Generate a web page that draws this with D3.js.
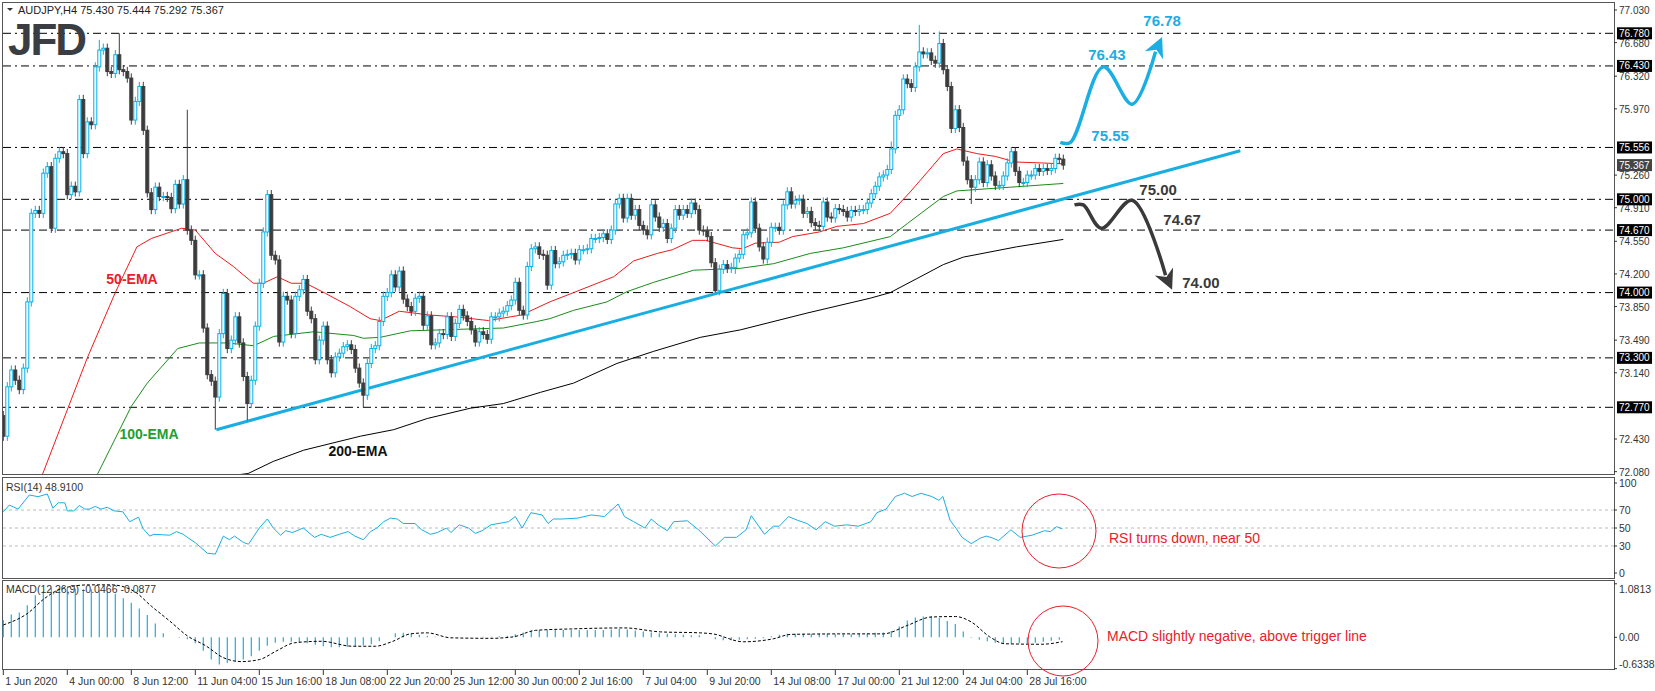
<!DOCTYPE html>
<html><head><meta charset="utf-8">
<script src="https://cdn.jsdelivr.net/npm/d3@7/dist/d3.min.js"></script>
<style>body{margin:0;background:#fff}svg{display:block}text{font-family:"Liberation Sans",Arial,sans-serif}</style>
</head><body><svg id="c" width="1655" height="691"></svg>
<script>
const firstOpen = 72.68;
const closes = [72.46,72.99,73.17,73.06,72.96,73.19,73.90,74.85,74.88,74.85,75.28,75.35,74.69,75.44,75.51,75.49,75.05,75.14,75.08,76.07,
75.49,75.83,75.80,76.42,76.60,76.62,76.37,76.35,76.55,76.39,76.37,76.30,75.85,76.05,76.21,75.74,75.07,74.89,75.13,75.03,
75.03,75.02,74.90,75.16,74.95,75.21,74.67,74.56,74.19,74.19,73.62,73.12,73.05,72.88,73.56,73.99,73.40,73.49,73.74,73.46,
73.10,72.81,73.06,73.64,74.10,74.65,75.05,74.40,74.35,73.47,73.96,73.92,73.56,73.96,74.03,74.14,73.80,73.72,73.28,73.49,
73.64,73.28,73.14,73.31,73.35,73.42,73.44,73.39,73.19,73.03,72.90,73.24,73.40,73.43,73.69,73.96,74.00,74.19,74.06,74.23,
73.93,73.85,73.80,73.94,73.96,73.65,73.75,73.44,73.46,73.56,73.55,73.74,73.53,73.67,73.82,73.75,73.69,73.60,73.47,73.58,
73.55,73.50,73.74,73.74,73.78,73.80,73.86,73.92,74.11,73.81,73.76,74.28,74.47,74.49,74.41,74.40,74.08,74.45,74.31,74.33,
74.40,74.41,74.42,74.35,74.46,74.46,74.47,74.58,74.58,74.59,74.63,74.57,74.67,74.95,75.01,74.80,75.01,74.83,74.89,74.72,
74.67,74.62,74.94,74.81,74.70,74.74,74.58,74.69,74.89,74.83,74.89,74.85,74.96,74.89,74.67,74.66,74.60,74.32,74.02,74.25,
74.30,74.26,74.27,74.37,74.41,74.62,74.64,74.97,74.69,74.49,74.36,74.54,74.70,74.70,74.67,74.94,75.08,74.95,74.99,75.00,
74.85,74.87,74.75,74.72,74.71,74.97,74.81,74.80,74.90,74.89,74.87,74.81,74.88,74.87,74.89,74.89,74.96,75.06,75.14,75.24,
75.26,75.32,75.54,75.90,75.96,76.29,76.24,76.20,76.42,76.58,76.56,76.57,76.49,76.46,76.67,76.39,76.21,75.76,75.96,75.77,
75.41,75.21,75.13,75.21,75.40,75.18,75.37,75.25,75.15,75.15,75.25,75.39,75.51,75.30,75.18,75.18,75.26,75.26,75.33,75.30,
75.33,75.31,75.33,75.44,75.43,75.367];
const highOverrides = [[24,76.71],[29,76.78],[46,75.96],[229,76.87],[234,76.80],[222,75.62]];
const lowOverrides = [[53,72.53],[61,72.63],[90,72.77],[178,74.0],[183,74.2],[242,74.95]];
const ema50 = [[9.7,72.04],[21,73.30],[28,74.0],[33.4,74.49],[37,74.58],[44.6,74.69],[48,74.67],[53,74.42],[57.5,74.28],[62.5,74.10],[65,74.10],[68.5,74.17],[72,74.10],[75.6,74.10],[80.6,73.99],[86.7,73.85],[91.7,73.72],[94.2,73.70],[99,73.80],[106.5,73.76],[113,73.74],[121.3,73.70],[129.6,73.76],[136.6,73.90],[142.6,74.0],[152.6,74.17],[157.6,74.34],[163.5,74.42],[167.3,74.46],[172.3,74.56],[175.6,74.56],[182.3,74.48],[184.8,74.47],[188,74.53],[194,74.54],[197.3,74.60],[204,74.65],[208.4,74.71],[215,74.74],[221.75,74.85],[226.75,75.08],[235,75.49],[238.4,75.54],[243.4,75.49],[248,75.46],[253,75.40],[259.6,75.39],[265,75.38]];
const ema100 = [[23.4,72.04],[32,72.78],[36,73.03],[43.6,73.40],[49,73.46],[56,73.46],[62.6,73.43],[67.6,73.53],[77.6,73.58],[87.6,73.54],[90,73.51],[94.2,73.52],[101.75,73.59],[116.75,73.61],[125,73.62],[133.4,73.69],[136.6,73.72],[142.6,73.81],[150.9,73.90],[155.9,74.01],[162.6,74.11],[172.6,74.24],[184.25,74.26],[192.6,74.31],[201.75,74.42],[210,74.48],[221.75,74.60],[226,74.74],[235,75.03],[238.4,75.09],[251.75,75.13],[265,75.17]];
const ema200 = [[57.5,72.04],[61.2,72.06],[67.5,72.19],[75.1,72.31],[89.25,72.46],[97.6,72.53],[106,72.65],[116.75,72.76],[125,72.81],[134.25,72.93],[142.6,73.03],[153.4,73.24],[162.6,73.37],[174.25,73.52],[184.25,73.60],[200.9,73.78],[216.75,73.94],[221.75,74.0],[228.4,74.15],[235,74.30],[240,74.38],[253.25,74.49],[265,74.57]];
const trendLine = [[53.25,72.53],[309.25,75.52]];
const levels = [76.78,76.43,75.556,75.00,74.67,74.00,73.30,72.77];
const priceTicks = [77.030,76.680,76.320,75.970,75.260,74.910,74.550,74.200,73.850,73.490,73.140,72.430,72.080];
const bullPath = [[264.25,75.61],[266.75,75.61],[275,76.42],[282.2,76.02],[289.7,76.74]];
const bearPath = [[267.8,74.94],[270,74.94],[274.5,74.69],[282.2,74.99],[292.2,74.03]];
const bullLabels = [[289.7,76.86,"76.78"],[275.9,76.49,"76.43"],[276.7,75.63,"75.55"]];
const bearLabels = [[288.7,75.05,"75.00"],[294.7,74.72,"74.67"],[299.4,74.05,"74.00"]];
const rsi = [[0,68],[1.5,75.5],[3.7,71],[6.5,86.7],[8.7,84.8],[11,87.8],[12.4,72],[13.7,78],[15.4,78],[16,69],[17.6,69],[19,75],[20.4,71],[21.5,71],[23,74],[24.4,71],[26,73],[27.7,69],[29.9,68],[31.6,57],[33.8,62],[34.9,49.6],[36.6,41],[37.7,43],[41.6,42],[43.3,46],[45,43],[46,39.6],[48,33.7],[51,22],[53,21],[55,41],[56.5,37],[57.8,41],[60,34],[61.3,32],[64,50],[66,60],[67.5,50],[69.3,42],[70.6,47],[72.3,45],[75,50],[77.8,39.6],[79.5,43],[81.7,39.6],[84,43],[86.2,46],[87.9,41],[90,37],[91.8,46],[93.4,50],[95.1,57],[96.8,61],[98.5,60],[100,55],[102.9,55],[104.6,48],[106.8,43],[108.5,45],[110.8,50],[111.9,45],[114,53.5],[116.3,50],[118,44],[119.7,47],[121.9,53.5],[126.3,57],[128,62.7],[129.7,50],[131.9,67],[134.7,64.5],[136.2,55],[137.5,60],[139.7,60],[143.6,61],[147,64.5],[150.3,62.7],[153.7,76.7],[155.3,62.7],[157.6,57],[160.4,50],[162,60],[163.7,53.5],[166,47],[167.6,57],[171,58],[173.8,48],[178,30],[180.3,39.6],[183.3,39.6],[185.7,48],[187,63.7],[190.3,43],[192.5,52],[194,52],[196.3,62.7],[198.6,58.5],[200.9,55],[203.2,48],[205.5,57],[207.8,52],[210.8,53.5],[213.8,52],[216.9,57],[218.4,67],[220.7,71],[223,85],[225.3,88.6],[227.2,85],[229.4,88.6],[232.1,85],[233.9,80.7],[234.9,85],[236.7,58.5],[238.2,49.6],[239.7,39.6],[242,32.6],[244.3,38.9],[245.8,41],[247.3,38.9],[248.8,36],[251.9,48],[254.2,39.6],[257.2,42],[260.3,47],[261.8,46],[263.3,51.5],[264.8,48.91]];
const rsiLevels = [70,50,30];
const rsiTicks = [100,70,50,30,0];
const macdHist = [0.35,0.46,0.50,0.65,0.85,0.93,1.0,0.97,1.0,0.98,0.97,0.97,0.95,0.93,0.88,0.79,0.70,0.58,0.45,0.28,0.08,0.0,-0.01,-0.04,-0.12,-0.27,-0.45,-0.55,-0.52,-0.49,-0.45,-0.38,-0.27,-0.17,-0.11,-0.09,-0.09,-0.1,-0.12,-0.15,-0.18,-0.2,-0.2,-0.19,-0.18,-0.16,-0.14,-0.08,0.0,0.08,0.09,0.07,0.05,0.03,0.01,0.0,0.0,0.0,0.0,0.0,0.01,0.01,0.02,0.03,0.06,0.1,0.14,0.15,0.15,0.15,0.15,0.15,0.15,0.15,0.15,0.15,0.16,0.17,0.16,0.14,0.12,0.1,0.08,0.07,0.06,0.05,0.04,0.04,0.0,-0.04,-0.06,-0.06,-0.05,-0.04,-0.03,-0.02,0.02,0.05,0.07,0.07,0.07,0.07,0.07,0.07,0.06,0.06,0.06,0.07,0.08,0.09,0.1,0.13,0.22,0.34,0.40,0.42,0.43,0.39,0.33,0.27,0.12,-0.01,-0.05,-0.08,-0.11,-0.13,-0.13,-0.12,-0.12,-0.11,-0.09,-0.07,-0.05];
const macdSignal = [[0,0.25],[6,0.48],[10.4,0.79],[14.8,0.99],[21.5,1.06],[27,1.06],[32.7,0.93],[37,0.63],[41.6,0.33],[46,0.03],[50.6,-0.17],[55,-0.41],[59.5,-0.49],[64,-0.45],[68.4,-0.27],[72.8,-0.11],[79.5,-0.08],[87.3,-0.18],[93,-0.18],[97.4,-0.08],[101.8,0.07],[106,0.09],[111.9,-0.01],[121.9,-0.02],[127.5,0.01],[133,0.14],[142,0.17],[155.3,0.19],[164.3,0.11],[174.25,0.09],[177.3,0.07],[185,-0.09],[192.5,-0.03],[197,0.06],[212,0.07],[220,0.07],[226,0.24],[232,0.41],[238,0.42],[242,0.31],[246.6,0.01],[250.4,-0.13],[259.5,-0.14],[264.8,-0.0877]];
const macdTicks = [["1.0813",1.0813],["0.00",0],["-0.6338",-0.6338]];
const dateLabels = ["1 Jun 2020","4 Jun 00:00","8 Jun 12:00","11 Jun 04:00","15 Jun 16:00","18 Jun 08:00","22 Jun 20:00","25 Jun 12:00","30 Jun 00:00","2 Jul 16:00","7 Jul 04:00","9 Jul 20:00","14 Jul 08:00","17 Jul 00:00","21 Jul 12:00","24 Jul 04:00","28 Jul 16:00"];
const dateLabelStep = 16;

const svg = d3.select("#c");
const AX = 1614;
const x = d3.scaleLinear().domain([0,265]).range([3.3,1063.3]);
const y = d3.scaleLinear().domain([72.77,76.78]).range([407.3,33.3]);
const yr = d3.scaleLinear().domain([0,100]).range([573,483]);
const ym = d3.scaleLinear().domain([-0.6338,1.0813]).range([668.7,583.8]);
const BULL="#00b0e6", BEAR="#3c3c3c";

const g = svg.append("g");
g.append("rect").attr("x",2.5).attr("y",2.5).attr("width",AX-2).attr("height",472).attr("fill","none").attr("stroke","#555");
g.append("rect").attr("x",2.5).attr("y",477.5).attr("width",AX-2).attr("height",101).attr("fill","none").attr("stroke","#555");
g.append("rect").attr("x",2.5).attr("y",580.5).attr("width",AX-2).attr("height",89).attr("fill","none").attr("stroke","#555");

const main = svg.append("g");
main.append("defs").append("clipPath").attr("id","mc").append("rect").attr("x",3).attr("y",3).attr("width",AX-3).attr("height",471);
const mg = main.append("g").attr("clip-path","url(#mc)");

levels.forEach(l=>mg.append("line").attr("x1",3).attr("x2",AX).attr("y1",y(l)).attr("y2",y(l))
  .attr("stroke","#000").attr("stroke-dasharray","8,4,2,4"));

const ln = d3.line().x(d=>x(d[0])).y(d=>y(d[1]));
mg.append("path").attr("d",ln(ema200)).attr("fill","none").attr("stroke","#000").attr("stroke-width",1);
mg.append("path").attr("d",ln(ema100)).attr("fill","none").attr("stroke","#1a8c1a").attr("stroke-width",1);
mg.append("path").attr("d",ln(ema50)).attr("fill","none").attr("stroke","#ee1c1c").attr("stroke-width",1);

mg.append("path").attr("d",ln(trendLine)).attr("stroke","#19aee2").attr("stroke-width",3).attr("fill","none");

const hiMap = new Map(highOverrides), loMap = new Map(lowOverrides);
const candles = closes.map((c,i)=>{
  const o = i===0?firstOpen:closes[i-1];
  const h = hiMap.has(i)?hiMap.get(i):Math.max(o,c)+0.05;
  const l = loMap.has(i)?loMap.get(i):Math.min(o,c)-0.05;
  return {i,o,c,h,l};
});
const cg = mg.selectAll("g.cd").data(candles).join("g");
cg.append("line").attr("x1",d=>x(d.i)).attr("x2",d=>x(d.i)).attr("y1",d=>y(d.h)).attr("y2",d=>y(d.l))
  .attr("stroke",d=>d.c>=d.o?BULL:BEAR).attr("stroke-width",1);
cg.append("rect").attr("x",d=>x(d.i)-1.5).attr("width",3)
  .attr("y",d=>y(Math.max(d.o,d.c))).attr("height",d=>Math.max(1,Math.abs(y(d.o)-y(d.c))))
  .attr("fill",d=>d.c>=d.o?"#fff":BEAR).attr("stroke",d=>d.c>=d.o?BULL:BEAR).attr("stroke-width",1);

function arrow(path,color){
  const lineD = d3.line().x(d=>x(d[0])).y(d=>y(d[1])).curve(d3.curveCatmullRom.alpha(0.5));
  const tip = path[path.length-1], prev = path[path.length-2];
  const tx=x(tip[0]), ty=y(tip[1]), px=x(prev[0]), py=y(prev[1]);
  const ang=Math.atan2(ty-py,tx-px);
  const bx=tx-16*Math.cos(ang), by=ty-16*Math.sin(ang);
  const full = path.slice(0,-1).concat([[x.invert(bx),y.invert(by)]]);
  mg.append("path").attr("d",lineD(full)).attr("fill","none").attr("stroke",color).attr("stroke-width",3.5);
  const w=10, nx=-Math.sin(ang), ny=Math.cos(ang);
  const bx2=tx-20*Math.cos(ang), by2=ty-20*Math.sin(ang);
  mg.append("path").attr("d",`M${tx},${ty}L${bx2+nx*w},${by2+ny*w}L${tx-14*Math.cos(ang)},${ty-14*Math.sin(ang)}L${bx2-nx*w},${by2-ny*w}Z`).attr("fill",color);
}
arrow(bullPath,"#1aaee2");
arrow(bearPath,"#3a3a3a");
bullLabels.forEach(d=>mg.append("text").attr("x",x(d[0])).attr("y",y(d[1])).attr("text-anchor","middle")
  .attr("font-size",15).attr("font-weight","bold").attr("fill","#1aaee2").text(d[2]));
bearLabels.forEach(d=>mg.append("text").attr("x",x(d[0])).attr("y",y(d[1])).attr("text-anchor","middle")
  .attr("font-size",15).attr("font-weight","bold").attr("fill","#3a3a3a").text(d[2]));

mg.append("text").attr("x",132).attr("y",284).attr("text-anchor","middle").attr("font-size",14).attr("font-weight","bold").attr("fill","#e8202a").text("50-EMA");
mg.append("text").attr("x",149).attr("y",439).attr("text-anchor","middle").attr("font-size",14).attr("font-weight","bold").attr("fill","#20a030").text("100-EMA");
mg.append("text").attr("x",358).attr("y",456).attr("text-anchor","middle").attr("font-size",14).attr("font-weight","bold").attr("fill","#111").text("200-EMA");

svg.append("text").attr("x",8).attr("y",55).attr("font-size",44).attr("font-weight","bold").attr("fill","#3a3d42").attr("letter-spacing",-2).text("JFD");
svg.append("path").attr("d","M7,8L13,8L10,11Z").attr("fill","#333");
svg.append("text").attr("x",18).attr("y",14).attr("font-size",11).attr("fill","#222").text("AUDJPY,H4  75.430 75.444 75.292 75.367");

const ax = svg.append("g").attr("font-size",10);
priceTicks.forEach(p=>{
  ax.append("line").attr("x1",AX).attr("x2",AX+3).attr("y1",y(p)).attr("y2",y(p)).attr("stroke","#333");
  ax.append("text").attr("x",AX+5).attr("y",y(p)+4).attr("fill","#333").text(p.toFixed(3));
});
levels.forEach(l=>{
  ax.append("rect").attr("x",AX+3).attr("y",y(l)-6).attr("width",35).attr("height",12).attr("fill","#000");
  ax.append("text").attr("x",AX+5).attr("y",y(l)+3.5).attr("fill","#fff").text(l.toFixed(3));
});
const last = closes[closes.length-1];
ax.append("rect").attr("x",AX+3).attr("y",y(last)-6).attr("width",35).attr("height",12).attr("fill","#444");
ax.append("text").attr("x",AX+5).attr("y",y(last)+3.5).attr("fill","#fff").text(last.toFixed(3));

const rg = svg.append("g");
rsiLevels.forEach(v=>rg.append("line").attr("x1",3).attr("x2",AX).attr("y1",yr(v)).attr("y2",yr(v)).attr("stroke","#bbb").attr("stroke-dasharray","3,3"));
rg.append("path").attr("d",d3.line().x(d=>x(d[0])).y(d=>yr(d[1]))(rsi)).attr("fill","none").attr("stroke","#1aaee2").attr("stroke-width",1);
rg.append("text").attr("x",6).attr("y",491).attr("font-size",10.5).attr("fill","#333").text("RSI(14) 48.9100");
rsiTicks.forEach(v=>{
  rg.append("line").attr("x1",AX).attr("x2",AX+3).attr("y1",yr(v)).attr("y2",yr(v)).attr("stroke","#333");
  rg.append("text").attr("x",AX+5).attr("y",yr(v)+4).attr("font-size",10.5).attr("fill","#333").text(v);
});
rg.append("circle").attr("cx",1059).attr("cy",531).attr("r",37).attr("fill","none").attr("stroke","#e8202a");
rg.append("text").attr("x",1109).attr("y",543).attr("font-size",14).attr("fill","#e8202a").text("RSI turns down, near 50");

const mgp = svg.append("g");
mgp.selectAll("line.h").data(macdHist).join("line").attr("x1",(d,i)=>x(i*2)).attr("x2",(d,i)=>x(i*2))
  .attr("y1",ym(0)).attr("y2",d=>ym(d)).attr("stroke","#1aaee2").attr("stroke-width",1.2);
mgp.append("path").attr("d",d3.line().x(d=>x(d[0])).y(d=>ym(d[1])).curve(d3.curveMonotoneX)(macdSignal)).attr("fill","none").attr("stroke","#000").attr("stroke-dasharray","3,2");
mgp.append("text").attr("x",6).attr("y",593).attr("font-size",10.5).attr("fill","#333").text("MACD(12,26,9) -0.0466 -0.0877");
macdTicks.forEach(t=>{
  mgp.append("line").attr("x1",AX).attr("x2",AX+3).attr("y1",ym(t[1])).attr("y2",ym(t[1])).attr("stroke","#333");
  mgp.append("text").attr("x",AX+5).attr("y",ym(t[1])+(t[1]>1?9:t[1]<0?-1:4)).attr("font-size",10.5).attr("fill","#333").text(t[0]);
});
mgp.append("circle").attr("cx",1063).attr("cy",641).attr("r",35).attr("fill","none").attr("stroke","#e8202a");
mgp.append("text").attr("x",1107).attr("y",641).attr("font-size",14).attr("fill","#e8202a").text("MACD slightly negative, above trigger line");

const dg = svg.append("g");
dateLabels.forEach((t,k)=>{
  const xx = x(k*dateLabelStep);
  dg.append("line").attr("x1",xx).attr("x2",xx).attr("y1",670).attr("y2",675).attr("stroke","#333");
  dg.append("text").attr("x",xx+2).attr("y",685).attr("font-size",10.5).attr("fill","#333").text(t);
});
</script></body></html>
